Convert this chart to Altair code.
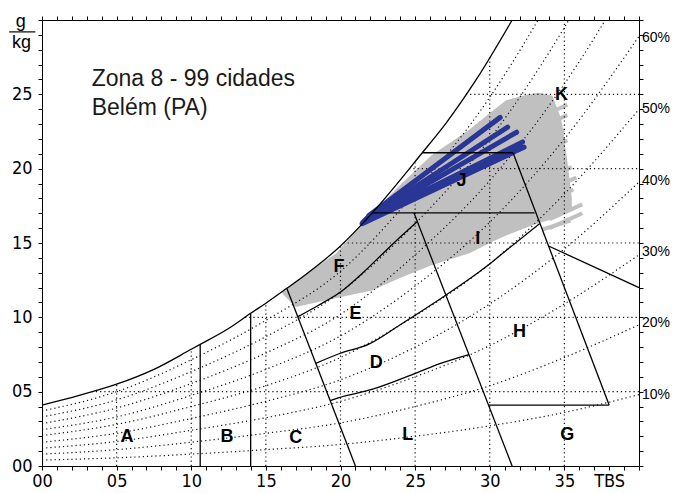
import altair as alt
import pandas as pd

# ---------------- data ----------------
# saturation curve (dry bulb °C, g/kg)
sat_t = [0, 2.5, 5, 7.5, 10, 10.6, 12.5, 13.98, 15, 16.4, 17.5, 20, 22.13, 25.48, 27.1, 29.1, 31.5]
sat_w = [4.1, 4.75, 5.5, 6.5, 7.85, 8.18, 9.25, 10.27, 10.95, 11.95, 12.75, 14.8, 17.03, 21.07, 23.1, 26.0, 30.0]

# relative humidity curves (dotted), values at rh_t
rh_t = [0, 5, 10, 15, 20, 25, 30, 35, 40]
rh_10 = [0.4, 0.55, 0.8, 1.1, 1.45, 2.0, 2.7, 3.6, 4.8]
rh_20 = [0.8, 1.1, 1.6, 2.2, 2.9, 4.0, 5.4, 7.3, 9.5]
rh_30 = [1.2, 1.65, 2.4, 3.25, 4.35, 6.0, 8.1, 10.9, 14.2]
rh_40 = [1.6, 2.2, 3.2, 4.35, 5.8, 8.0, 10.9, 14.6, 19.1]
rh_50 = [2.05, 2.8, 4.0, 5.4, 7.3, 10.1, 13.6, 18.3, 24.0]
rh_60 = [2.45, 3.3, 4.75, 6.5, 8.75, 12.1, 16.4, 22.0, 28.9]
rh_70 = [2.85, 3.9, 5.55, 7.6, 10.2, 14.2, 19.2, 25.7, 33.8]
rh_80 = [3.3, 4.45, 6.35, 8.7, 11.7, 16.3, 22.0, 29.5, 38.7]
rh_90 = [3.7, 5.0, 7.15, 9.8, 13.1, 18.4, 24.8, 33.2, 43.6]

# dotted grid
vgrid_t = [5, 10, 15, 20, 25, 30, 35]
vgrid_top = [5.5, 7.85, 10.95, 14.8, 20.5, 27.5, 30]
hgrid_w = [5, 10, 15, 20, 25]
hgrid_start = [3.33, 13.6, 20.2, 24.6, 28.4]

# zone boundary lines
v1_t, v1_w = [10.6, 10.6], [0, 8.18]
v2_t, v2_w = [13.98, 13.98], [0, 10.27]
l3_t, l3_w = [16.4, 21.0], [11.95, 0]
fe_t = [17.15, 18.5, 20.0, 21.5, 23.0, 24.0, 25.15]
fe_w = [10.05, 10.8, 11.7, 13.0, 14.45, 15.4, 16.45]
ed_t = [18.34, 19.9, 21.9, 24.0, 27.07, 29.75, 31.1, 33.35]
ed_w = [6.9, 7.55, 8.2, 9.5, 11.5, 13.4, 14.5, 16.3]
dl_t = [19.31, 19.9, 22.1, 25.06, 26.7, 28.6]
dl_w = [4.4, 4.6, 5.15, 6.25, 6.9, 7.5]
jb_t, jb_w = [22.13, 33.0], [17.03, 17.03]
jt_t, jt_w = [25.48, 31.56], [21.07, 21.07]
l5_t, l5_w = [24.92, 31.5], [17.03, 0]
l6_t, l6_w = [31.56, 38.0], [21.07, 4.1]
hb_t, hb_w = [29.92, 38.0], [4.1, 4.1]
kh_t, kh_w = [33.94, 40.0], [14.8, 12.0]

# climate data cloud (grey)
cloud_t = [16.1, 17.0, 19.7, 22.1, 24.1, 26.1, 28.6, 30.2, 31.1, 32.6, 33.3, 34.2, 34.8, 35.2, 35.5]
cloud_lo = [11.6, 10.7, 11.3, 11.8, 12.7, 13.5, 14.3, 15.1, 15.5, 16.1, 16.35, 16.6, 16.9, 17.1, 17.3]
cloud_hi = [11.75, 12.45, 14.3, 17.0, 19.0, 20.9, 22.6, 23.9, 24.6, 25.0, 25.1, 24.9, 23.3, 20.5, 18.0]
streak_t1 = [33.0, 33.0, 33.0, 33.0, 33.5, 33.5, 33.5, 34.0, 34.0, 33.5]
streak_w1 = [23.3, 22.6, 21.7, 20.9, 19.2, 18.4, 17.6, 16.6, 16.0, 15.9]
streak_t2 = [35.2, 35.2, 35.0, 35.2, 35.5, 35.8, 35.6, 36.2, 36.2, 35.4]
streak_w2 = [24.3, 23.6, 22.6, 21.9, 20.1, 19.4, 18.6, 17.6, 17.0, 16.5]

# blue lines (hottest period)
blue_t1 = [21.9, 21.8, 21.7, 21.6, 21.5, 21.45, 21.7]
blue_w1 = [16.85, 16.7, 16.6, 16.5, 16.4, 16.3, 16.55]
blue_t2 = [30.7, 31.2, 31.8, 32.2, 32.3, 31.6, 32.0]
blue_w2 = [23.45, 22.8, 22.45, 21.8, 21.45, 21.1, 21.6]

# zone letters
zone_txt = ["A", "B", "C", "D", "E", "F", "G", "H", "I", "J", "K", "L"]
zone_t = [5.7, 12.4, 17.0, 22.4, 21.0, 19.9, 35.2, 32.0, 29.2, 28.1, 34.8, 24.5]
zone_w = [1.95, 1.95, 1.9, 6.9, 10.2, 13.4, 2.1, 9.0, 15.3, 19.2, 24.95, 2.1]

# right-side labels
pct_txt = ["10%", "20%", "30%", "40%", "50%", "60%"]
pct_w = [4.8, 9.6, 14.4, 19.2, 24.0, 28.8]

title_lines = ["Zona 8 - 99 cidades", "Belém (PA)"]
title_w = [25.55, 23.6]

# ---------------- build tables ----------------
GRAY = "#c0c0c0"
BLUE = "#2a3696"
LABEL_FONT = "Liberation Sans Narrow, DejaVu Sans Condensed, Liberation Sans"

xs = alt.Scale(domain=[0, 40], nice=False, zero=False)
ys = alt.Scale(domain=[0, 30], nice=False, zero=False)


def X(f, axis=None):
    return alt.X(f, type="quantitative", scale=xs, axis=axis)


def Y(f, axis=None):
    return alt.Y(f, type="quantitative", scale=ys, axis=axis)


rh_rows = []
for lvl, arr in zip(range(10, 100, 10), [rh_10, rh_20, rh_30, rh_40, rh_50, rh_60, rh_70, rh_80, rh_90]):
    for i, (t, w) in enumerate(zip(rh_t, arr)):
        rh_rows.append({"rh": lvl, "o": i, "t": t, "w": w})
df_rh = pd.DataFrame(rh_rows)

grid_rows = []
for t, top in zip(vgrid_t, vgrid_top):
    grid_rows.append({"t": t, "w": 0, "t2": t, "w2": top})
for w, st in zip(hgrid_w, hgrid_start):
    grid_rows.append({"t": st, "w": w, "t2": 40, "w2": w})
df_grid = pd.DataFrame(grid_rows)

lines = {
    "sat": (sat_t, sat_w), "v1": (v1_t, v1_w), "v2": (v2_t, v2_w), "l3": (l3_t, l3_w),
    "fe": (fe_t, fe_w), "ed": (ed_t, ed_w), "dl": (dl_t, dl_w), "jb": (jb_t, jb_w),
    "jt": (jt_t, jt_w), "l5": (l5_t, l5_w), "l6": (l6_t, l6_w), "hb": (hb_t, hb_w),
    "kh": (kh_t, kh_w),
}
z_rows = []
for k, (ts, ws) in lines.items():
    for i, (t, w) in enumerate(zip(ts, ws)):
        z_rows.append({"id": k, "o": i, "t": t, "w": w})
df_zone = pd.DataFrame(z_rows)

df_cloud = pd.DataFrame({"t": cloud_t, "lo": cloud_lo, "hi": cloud_hi})
df_streak = pd.DataFrame({"t": streak_t1, "w": streak_w1, "t2": streak_t2, "w2": streak_w2})
df_blue = pd.DataFrame({"t": blue_t1, "w": blue_w1, "t2": blue_t2, "w2": blue_w2})
df_zt = pd.DataFrame({"txt": zone_txt, "t": zone_t, "w": zone_w})
df_pct = pd.DataFrame({"txt": pct_txt, "t": [40] * len(pct_txt), "w": pct_w})
df_title = pd.DataFrame({"txt": title_lines, "t": [3.33] * 2, "w": title_w})
df_frac = pd.DataFrame({"txt": ["g", "kg"], "t": [-1.42, -1.38], "w": [29.5, 28.15]})
df_bar = pd.DataFrame({"t": [-2.2], "t2": [-0.45], "w": [29.2]})
df_dummy = pd.DataFrame({"t": [0, 40], "w": [0, 30]})

# ---------------- layers ----------------
cloud = alt.Chart(df_cloud).mark_area(color=GRAY, opacity=1).encode(
    x=X("t"), y=Y("lo"), y2="hi")
streaks = alt.Chart(df_streak).mark_rule(color=GRAY, strokeWidth=4, strokeCap="butt").encode(
    x=X("t"), y=Y("w"), x2="t2", y2="w2")
rh = alt.Chart(df_rh).mark_line(color="#111", strokeWidth=1.2, strokeDash=[1.2, 3],
                                interpolate="monotone", clip=True).encode(
    x=X("t"), y=Y("w"), detail="rh:N", order="o:Q")
grid = alt.Chart(df_grid).mark_rule(color="#111", strokeWidth=1.2, strokeDash=[1.2, 3]).encode(
    x=X("t"), y=Y("w"), x2="t2", y2="w2")
blue = alt.Chart(df_blue).mark_rule(color=BLUE, strokeWidth=5, strokeCap="round").encode(
    x=X("t"), y=Y("w"), x2="t2", y2="w2")
zone = alt.Chart(df_zone).mark_line(color="black", strokeWidth=1.3, interpolate="monotone").encode(
    x=X("t"), y=Y("w"), detail="id:N", order="o:Q")
ztext = alt.Chart(df_zt).mark_text(font="Liberation Sans", fontSize=18, fontWeight="bold",
                                   color="black", align="center", baseline="middle").encode(
    x=X("t"), y=Y("w"), text="txt:N")
pct = alt.Chart(df_pct).mark_text(font="Liberation Sans", fontSize=14, color="black", align="left",
                                  baseline="middle", dx=3).encode(
    x=X("t"), y=Y("w"), text="txt:N")
title = alt.Chart(df_title).mark_text(font="Liberation Sans", fontSize=23, color="#1a1a1a",
                                      align="left", baseline="alphabetic").encode(
    x=X("t"), y=Y("w"), text="txt:N")
frac = alt.Chart(df_frac).mark_text(font="Liberation Sans", fontSize=18, color="black",
                                    align="center", baseline="alphabetic").encode(
    x=X("t"), y=Y("w"), text="txt:N")
bar = alt.Chart(df_bar).mark_rule(color="black", strokeWidth=1.2).encode(
    x=X("t"), x2="t2", y=Y("w"))

common_axis = dict(domainColor="black", tickColor="black", labelColor="black",
                   labelFont=LABEL_FONT, labelFontSize=18, grid=False, title=None,
                   tickSize=4, labelOverlap=False, labelFlush=False, domainWidth=1, tickWidth=1)
bottom_axis = alt.Axis(orient="bottom", values=list(range(0, 41)), labelPadding=2,
                       labelExpr="datum.value == 38 ? 'TBS' : (datum.value % 5 == 0 && datum.value < 40 ? format(datum.value, '02d') : '')",
                       **common_axis)
left_axis = alt.Axis(orient="left", values=list(range(0, 31)), labelPadding=6,
                     labelExpr="datum.value % 5 == 0 && datum.value < 30 ? format(datum.value, '02d') : ''",
                     **common_axis)
top_axis = alt.Axis(orient="top", values=list(range(0, 41)), labels=False, domainColor="black",
                    tickColor="black", grid=False, title=None, tickSize=4)
right_axis = alt.Axis(orient="right", values=list(range(0, 31)), labels=False, domainColor="black",
                      tickColor="black", grid=False, title=None, tickSize=4)

ax1 = alt.Chart(df_dummy).mark_point(opacity=0).encode(
    x=X("t", bottom_axis), y=Y("w", left_axis))
ax2 = alt.Chart(df_dummy).mark_point(opacity=0).encode(
    x=X("t", top_axis), y=Y("w", right_axis))

chart = alt.layer(
    cloud, streaks, rh, grid, blue, zone, ztext, pct, title, frac, bar, ax1, ax2
).resolve_axis(x="independent", y="independent").properties(
    width=597, height=446,
    padding={"left": 34, "top": 12, "right": 33, "bottom": 28},
    autosize=alt.AutoSizeParams(type="none"),
    background="white",
).configure_view(stroke=None)

chart.save("out.html", embed_options={"renderer": "svg", "actions": False})
